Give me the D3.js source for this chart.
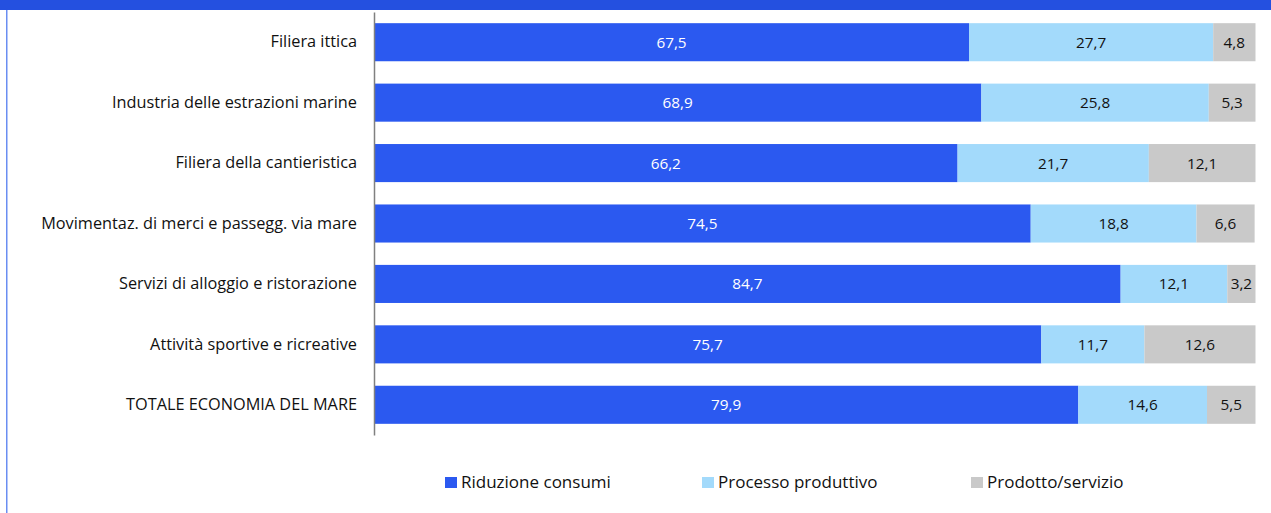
<!DOCTYPE html>
<html><head><meta charset="utf-8">
<script src="https://cdn.jsdelivr.net/npm/d3@7"></script>
<style>body{margin:0;background:#fff;} svg{display:block;}</style>
</head><body>
<svg id="c" width="1271" height="513"></svg>
<script>
const categories = ["Filiera ittica","Industria delle estrazioni marine","Filiera della cantieristica","Movimentaz. di merci e passegg. via mare","Servizi di alloggio e ristorazione","Attività sportive e ricreative","TOTALE ECONOMIA DEL MARE"];
const riduzione = [67.5,68.9,66.2,74.5,84.7,75.7,79.9];
const processo = [27.7,25.8,21.7,18.8,12.1,11.7,14.6];
const prodotto = [4.8,5.3,12.1,6.6,3.2,12.6,5.5];
const seriesNames = ["Riduzione consumi","Processo produttivo","Prodotto/servizio"];
const colors = ["#2b59f0","#a3dafb","#c9c9c9"];
const textColors = ["#ffffff","#111111","#111111"];

const svg = d3.select("#c");
const W = 1271, H = 513;
const font = "'Open Sans', sans-serif";

svg.append("rect").attr("x",0).attr("y",0).attr("width",W).attr("height",10).attr("fill","#2450e0");
svg.append("rect").attr("x",6).attr("y",10).attr("width",1.5).attr("height",H-10).attr("fill","#6a8ef2");

const x = d3.scaleLinear().domain([0,100]).range([374,1255.5]);
const y = d3.scaleBand().domain(categories).range([12,435]).paddingInner(0.37).paddingOuter(0.185);

const stackData = categories.map((c,i)=>({cat:c, s0:riduzione[i], s1:processo[i], s2:prodotto[i]}));
const stack = d3.stack().keys(["s0","s1","s2"])(stackData);

stack.forEach((layer,k)=>{
  const g = svg.append("g");
  g.selectAll("rect").data(layer).join("rect")
    .attr("x",d=>x(d[0])).attr("width",d=>x(d[1])-x(d[0]))
    .attr("y",d=>y(d.data.cat)).attr("height",y.bandwidth())
    .attr("fill",colors[k]);
  g.selectAll("text").data(layer).join("text")
    .attr("x",d=>(x(d[0])+x(d[1]))/2)
    .attr("y",d=>y(d.data.cat)+y.bandwidth()/2)
    .attr("dy","0.36em").attr("text-anchor","middle")
    .attr("font-family",font).attr("font-size",15.3)
    .attr("fill",textColors[k])
    .text(d=>d3.format(".1f")(d[1]-d[0]).replace(".",","));
});

// axis
const ax = svg.append("g").attr("transform","translate(374,0)")
  .call(d3.axisLeft(y).tickSize(0).tickPadding(17));
ax.select(".domain").attr("stroke","#808080").attr("stroke-width",1.5);
ax.selectAll("text").attr("font-family",font).attr("font-size",16.3).attr("fill","#111");

// legend
const legX = [445,702,971];
seriesNames.forEach((n,i)=>{
  svg.append("rect").attr("x",legX[i]).attr("y",477).attr("width",12).attr("height",11).attr("fill",colors[i]);
  svg.append("text").attr("x",legX[i]+16).attr("y",482).attr("dy","0.36em")
    .attr("font-family",font).attr("font-size",17).attr("fill","#111").text(n);
});
</script>
</body></html>
